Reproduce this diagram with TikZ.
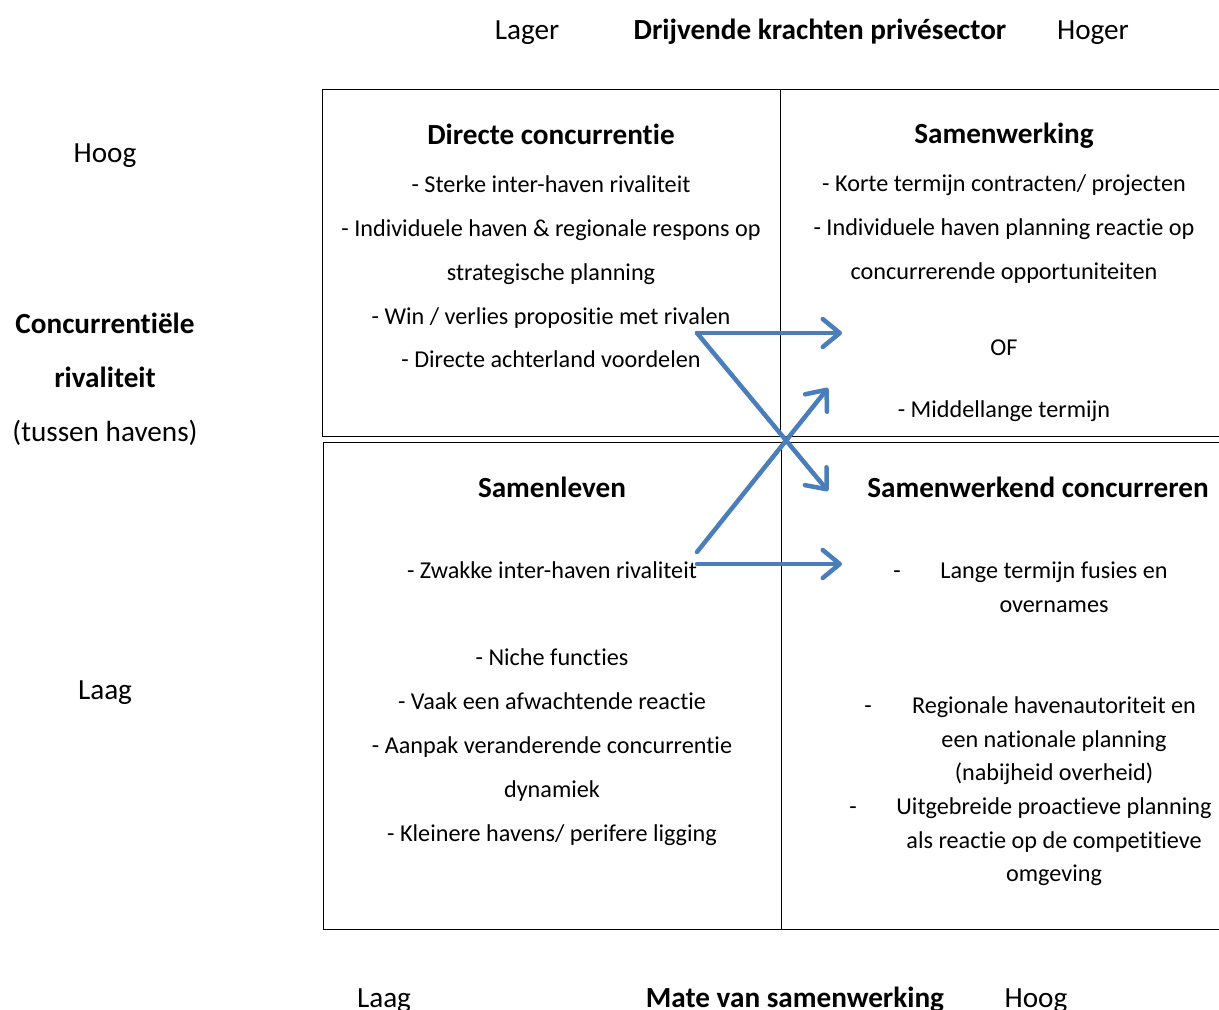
\documentclass[tikz,border=0pt]{standalone}
\usepackage{fontspec}
\setmainfont{Carlito}[Ligatures=NoCommon]
\usetikzlibrary{arrows.meta}
\definecolor{arrowblue}{RGB}{74,126,187}
\begin{document}
\begin{tikzpicture}[x=1pt,y=-1pt,
  txt/.style={font=\fontsize{24.2}{28}\selectfont, inner sep=0pt, anchor=base},
  axt/.style={font=\fontsize{29.2}{34}\selectfont, inner sep=0pt, anchor=base},
  axb/.style={font=\fontsize{29.2}{34}\selectfont\bfseries, inner sep=0pt, anchor=base},
  ttl/.style={font=\fontsize{29.2}{34}\selectfont\bfseries, inner sep=0pt, anchor=base},
  quad/.style={draw=black, line width=1.3pt, anchor=north west, inner sep=0pt},
  arr/.style={draw=arrowblue, line width=4.5pt, line cap=round, -{Straight Barb[length=17pt, width=28pt, round]}}
]
\clip (0,0) rectangle (1219,1010);
\fill[white] (0,0) rectangle (1219,1010);

% quadrants
\node[quad, minimum width=458pt, minimum height=347pt] (tl) at (322,89) {};
\node[quad, minimum width=460pt, minimum height=347pt] (tr) at (780,89) {};
\node[quad, minimum width=458pt, minimum height=487pt] (bl) at (323,442) {};
\node[quad, minimum width=460pt, minimum height=487pt] (br) at (781,442) {};

% top axis
\node[axt] (lager) at (527,39) {Lager};
\node[axb] (drijf) at (820,39) {Drijvende krachten privésector};
\node[axt] (hoger) at (1093,39) {Hoger};

% left axis
\node[axt] (hoogL) at (105,162) {Hoog};
\node[axb] (conc) at (105,333) {Concurrentiële};
\node[axb] (riv) at (105,387) {rivaliteit};
\node[axt] (tuss) at (105,441) {(tussen havens)};
\node[axt] (laagL) at (105,699) {Laag};

% bottom axis
\node[axt] (laagB) at (384,1007) {Laag};
\node[axb] (mate) at (795,1007) {Mate van samenwerking};
\node[axt] (hoogB) at (1036,1007) {Hoog};

% top-left
\node[ttl] (t1) at (551,144) {Directe concurrentie};
\node[txt] (t1a) at (551,192) {- Sterke inter-haven rivaliteit};
\node[txt] (t1b) at (551,236) {- Individuele haven \& regionale respons op};
\node[txt] (t1c) at (551,280) {strategische planning};
\node[txt] (t1d) at (551,324) {- Win / verlies propositie met rivalen};
\node[txt] (t1e) at (551,367) {- Directe achterland voordelen};

% top-right
\node[ttl] (t2) at (1004,143) {Samenwerking};
\node[txt] (t2a) at (1004,191) {- Korte termijn contracten/ projecten};
\node[txt] (t2b) at (1004,235) {- Individuele haven planning reactie op};
\node[txt] (t2c) at (1004,279) {concurrerende opportuniteiten};
\node[txt] (t2d) at (1004,355) {OF};
\node[txt] (t2e) at (1004,417) {- Middellange termijn};

% bottom-left
\node[ttl] (t3) at (552,497) {Samenleven};
\node[txt] (t3a) at (552,578) {- Zwakke inter-haven rivaliteit};
\node[txt] (t3b) at (552,665) {- Niche functies};
\node[txt] (t3c) at (552,709) {- Vaak een afwachtende reactie};
\node[txt] (t3d) at (552,753) {- Aanpak veranderende concurrentie};
\node[txt] (t3e) at (552,797) {dynamiek};
\node[txt] (t3f) at (552,841) {- Kleinere havens/ perifere ligging};

% bottom-right
\node[ttl] (t4) at (1038,497) {Samenwerkend concurreren};
\node[txt] (d1) at (897,578) {-};
\node[txt] (t4a) at (1054,578) {Lange termijn fusies en};
\node[txt] (t4b) at (1054,612) {overnames};
\node[txt] (d2) at (868,713) {-};
\node[txt] (t4c) at (1054,713) {Regionale havenautoriteit en};
\node[txt] (t4d) at (1054,747) {een nationale planning};
\node[txt] (t4e) at (1054,780) {(nabijheid overheid)};
\node[txt] (d3) at (853,814) {-};
\node[txt] (t4f) at (1054,814) {Uitgebreide proactieve planning};
\node[txt] (t4g) at (1054,848) {als reactie op de competitieve};
\node[txt] (t4h) at (1054,881) {omgeving};

% arrows
\coordinate (s1) at (697,333);
\coordinate (e1) at (842,333);
\coordinate (e2) at (828,491);
\coordinate (s2) at (697,552);
\coordinate (e3) at (828,388);
\coordinate (s3) at (697,564);
\coordinate (e4) at (842,564);
\draw[arr] (s1) -- (e1);
\draw[arr] (s1) -- (e2);
\draw[arr] (s2) -- (e3);
\draw[arr] (s3) -- (e4);
\end{tikzpicture}
\end{document}
